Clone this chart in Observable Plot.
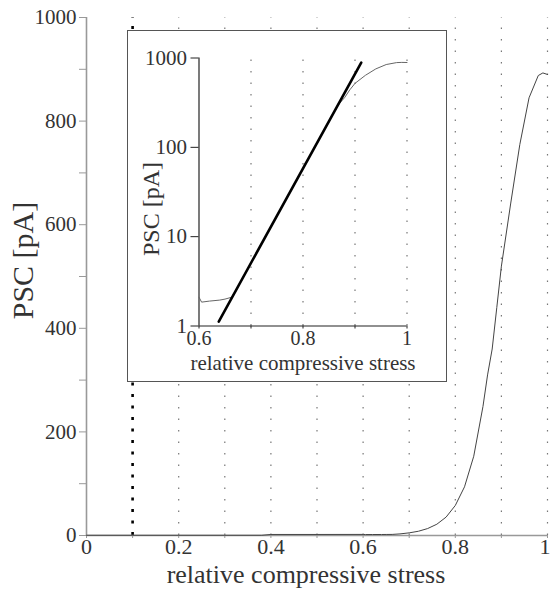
<!DOCTYPE html>
<html><head><meta charset="utf-8">
<script src="https://cdn.jsdelivr.net/npm/d3@7"></script>
<script src="https://cdn.jsdelivr.net/npm/@observablehq/plot@0.6"></script>
<style>
body{margin:0;background:#fff;}
#wrap{position:relative;width:550px;height:590px;overflow:hidden;}
#inset{position:absolute;left:127px;top:30px;width:318px;height:350px;border:1.5px solid #555;background:#fff;}
svg{display:block;}
svg text{font-family:'Liberation Serif','Times New Roman',serif !important;}
</style></head><body><div id="wrap"><div id="main"></div><div id="inset"></div></div>
<script>
// measured PSC trace
const stress = [0, 0.1, 0.2, 0.3, 0.38, 0.4, 0.5, 0.6, 0.605, 0.62, 0.64, 0.65, 0.663, 0.68, 0.70, 0.72, 0.74, 0.76, 0.78, 0.80, 0.82, 0.84, 0.86, 0.87, 0.88, 0.89, 0.90, 0.92, 0.94, 0.96, 0.98, 0.99, 1.0];
const psc = [0.5, 0.5, 0.5, 0.5, 0.5, 2, 2, 2.1, 1.85, 1.9, 1.95, 2.0, 2.1, 3.1, 5.1, 8.2, 13.4, 21.8, 35.5, 58, 94, 153, 249, 310, 360, 440, 520, 640, 755, 845, 888, 893, 890];
// exponential fit (inset)
const fitStress = [0.638, 0.912];
const fitPsc = [1.12, 887];
// ticks
const mainXTicks = [0, 0.1, 0.2, 0.3, 0.4, 0.5, 0.6, 0.7, 0.8, 0.9, 1];
const mainXLabels = [0, 0.2, 0.4, 0.6, 0.8];
const mainXEdgeLabel = [1];
const mainYTicks = [0, 100, 200, 300, 400, 500, 600, 700, 800, 900, 1000];
const mainYLabels = [0, 200, 400, 600, 800, 1000];
const gridX = [0.2, 0.3, 0.4, 0.5, 0.6, 0.7, 0.8, 0.9, 1];
const markerX = [0.1];
const insetXTicks = [0.6, 0.7, 0.8, 0.9, 1];
const insetXLabels = [0.6, 0.8, 1];
const insetYTicks = [1, 10, 100, 1000];
const insetGridX = [0.7, 0.8, 0.9, 1];

const trace = stress.map((s, i) => ({s, p: psc[i]}));
const fit = fitStress.map((s, i) => ({s, p: fitPsc[i]}));
const font = "'Liberation Serif', 'Times New Roman', serif";
const fmt = v => String(v);

const main = Plot.plot({
  width: 550, height: 590,
  marginLeft: 86, marginRight: 3, marginTop: 17, marginBottom: 55,
  style: {fontFamily: font, color: "#333", background: "#fff"},
  x: {domain: [0, 1], axis: null},
  y: {domain: [0, 1000], axis: null},
  marks: [
    Plot.ruleX(gridX, {y1: 0, y2: 1000, stroke: "#777", strokeWidth: 1.2, strokeDasharray: "1.5,10"}),
    Plot.ruleX(markerX, {y1: 0, y2: 1000, stroke: "#000", strokeWidth: 2.6, strokeDasharray: "3,8.5"}),
    Plot.ruleX([0], {y1: 0, y2: 1000, stroke: "#999", strokeWidth: 1.6}),
    Plot.ruleY([0], {x1: 0, x2: 1, stroke: "#999", strokeWidth: 1.6}),
    Plot.axisY({ticks: mainYTicks, tickSize: 7, tickPadding: 3, stroke: "#999", fill: "#333", fontSize: 21, fontFamily: font, label: null,
      tickFormat: d => mainYLabels.includes(d) ? fmt(d) : ""}),
    Plot.axisX({ticks: mainXTicks, tickSize: 3, tickPadding: 0, stroke: "#999", fill: "#333", fontSize: 22, fontFamily: font, label: null,
      tickFormat: d => mainXLabels.includes(d) ? fmt(d) : ""}),
    Plot.text(mainXEdgeLabel, {x: d => d, frameAnchor: "bottom", lineAnchor: "top", textAnchor: "end", dy: 3, dx: 3, text: d => fmt(d), fontSize: 22, fill: "#333"}),
    Plot.line(trace, {x: "s", y: "p", stroke: "#444", strokeWidth: 1}),
    Plot.text(["PSC [pA]"], {frameAnchor: "left", textAnchor: "middle", lineAnchor: "middle", rotate: -90, dx: -63, dy: -16, fontSize: 30, fill: "#333"}),
    Plot.text(["relative compressive stress"], {frameAnchor: "bottom", textAnchor: "middle", lineAnchor: "middle", dy: 39, dx: -11, fontSize: 26, fill: "#333"})
  ]
});
document.getElementById("main").appendChild(main);

const inset = Plot.plot({
  width: 318, height: 350,
  marginLeft: 70.5, marginRight: 39.5, marginTop: 26.5, marginBottom: 55.5,
  style: {fontFamily: font, color: "#333", background: "#fff"},
  x: {domain: [0.6, 1], axis: null},
  y: {type: "log", domain: [1, 1000], axis: null},
  marks: [
    Plot.ruleX(insetGridX, {y1: 1, y2: 1000, stroke: "#777", strokeWidth: 1.2, strokeDasharray: "1.5,10"}),
    Plot.ruleX([0.6], {y1: 1, y2: 1000, stroke: "#222", strokeWidth: 1.2}),
    Plot.ruleY([1], {x1: 0.6, x2: 1, stroke: "#222", strokeWidth: 1.2}),
    Plot.axisY({ticks: insetYTicks, tickSize: 8, tickPadding: 4, stroke: "#222", fill: "#333", fontSize: 21, fontFamily: font, label: null, tickFormat: fmt}),
    Plot.axisX({ticks: insetXTicks, tickSize: 3, tickPadding: 2, stroke: "#222", fill: "#333", fontSize: 20, fontFamily: font, label: null,
      tickFormat: d => insetXLabels.includes(d) ? fmt(d) : ""}),
    Plot.line(trace.filter(d => d.s >= 0.6), {x: "s", y: "p", stroke: "#666", strokeWidth: 1}),
    Plot.line(fit, {x: "s", y: "p", stroke: "#000", strokeWidth: 2.6}),
    Plot.text(["PSC [pA]"], {frameAnchor: "left", textAnchor: "middle", lineAnchor: "middle", rotate: -90, dx: -48, dy: 17, fontSize: 24, fill: "#333"}),
    Plot.text(["relative compressive stress"], {frameAnchor: "bottom", textAnchor: "middle", lineAnchor: "middle", dy: 37, fontSize: 21, fill: "#333"})
  ]
});
document.getElementById("inset").appendChild(inset);
</script>
</body></html>
